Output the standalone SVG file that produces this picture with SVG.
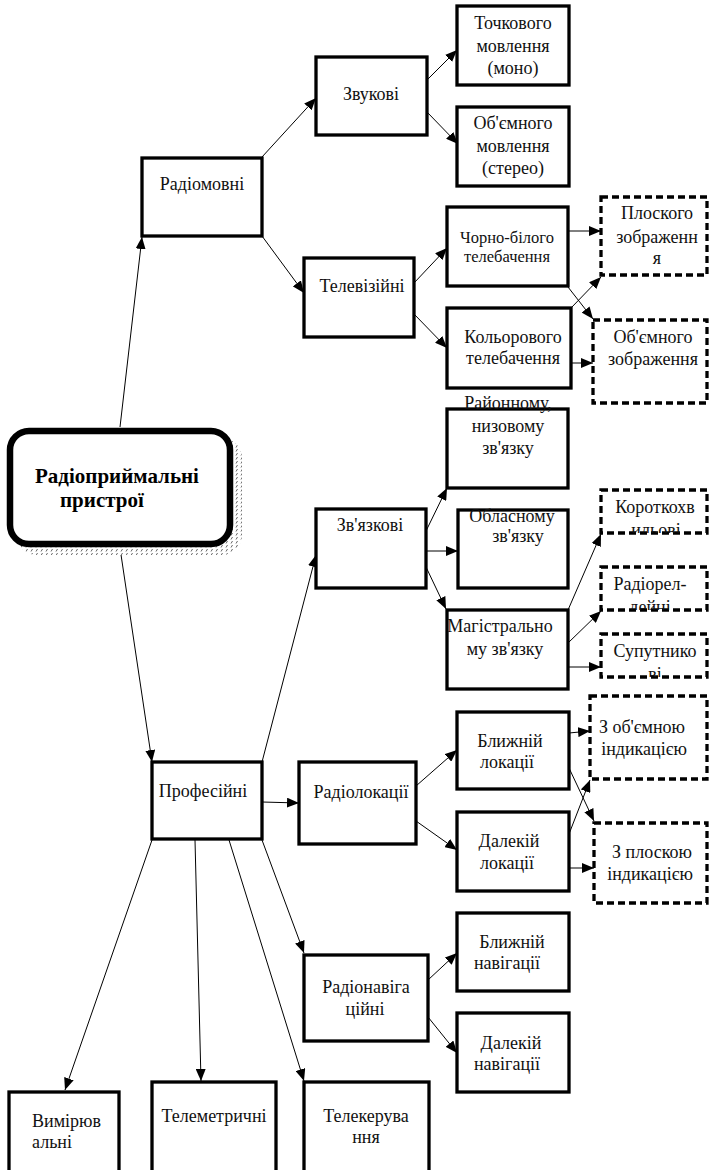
<svg xmlns="http://www.w3.org/2000/svg" width="709" height="1170" viewBox="0 0 709 1170">
  <style>
    .box { fill: #fff; stroke: #000; stroke-width: 3.3; }
    .dbox { fill: #fff; stroke: #000; stroke-width: 3.3; stroke-dasharray: 7 4; }
    .t { font-family: "Liberation Serif", "Times New Roman", serif; font-size: 18px; fill: #111; text-anchor: middle; }
    .ts { font-size: 16.5px; }
    .tl { text-anchor: start; }
    .tb { font-family: "Liberation Serif", "Times New Roman", serif; font-size: 21px; font-weight: bold; fill: #000; }
    .ln { stroke: #000; stroke-width: 1; fill: none; marker-end: url(#arr); }
  </style>
  <defs>
    <marker id="arr" markerWidth="12" markerHeight="10" refX="12" refY="5" orient="auto" markerUnits="userSpaceOnUse">
      <path d="M0,0 L12,5 L0,10 z" fill="#000"/>
    </marker>
    <pattern id="dots" width="5" height="4" patternUnits="userSpaceOnUse">
      <rect width="5" height="4" fill="#fff"/>
      <path d="M1,3.5 L2.5,1" stroke="#666" stroke-width="1"/>
    </pattern>
    <clipPath id="clipKor"><rect x="601" y="480" width="108" height="53"/></clipPath>
    <clipPath id="clipRel"><rect x="601" y="560" width="108" height="50"/></clipPath>
    <clipPath id="clipSup"><rect x="601" y="630" width="108" height="47"/></clipPath>
  </defs>

  <!-- connectors -->
  <g id="connectors">
    <line class="ln" x1="120" y1="427" x2="142" y2="237"/>
    <line class="ln" x1="262" y1="157" x2="316" y2="98"/>
    <line class="ln" x1="262" y1="236" x2="304" y2="293"/>
    <line class="ln" x1="427" y1="80" x2="457" y2="50"/>
    <line class="ln" x1="427" y1="112" x2="458" y2="144"/>
    <line class="ln" x1="414" y1="283" x2="447" y2="248"/>
    <line class="ln" x1="414" y1="314" x2="447" y2="348"/>
    <line class="ln" x1="568" y1="231" x2="601" y2="231"/>
    <line class="ln" x1="568" y1="287" x2="593" y2="319"/>
    <line class="ln" x1="571" y1="308" x2="601" y2="277"/>
    <line class="ln" x1="571" y1="363" x2="593" y2="363"/>
    <line class="ln" x1="120" y1="548" x2="152" y2="762"/>
    <line class="ln" x1="262" y1="762" x2="316" y2="555"/>
    <line class="ln" x1="426" y1="531" x2="447" y2="488"/>
    <line class="ln" x1="426" y1="551" x2="458" y2="551"/>
    <line class="ln" x1="426" y1="567" x2="446" y2="609"/>
    <line class="ln" x1="568" y1="610" x2="601" y2="534"/>
    <line class="ln" x1="568" y1="643" x2="601" y2="611"/>
    <line class="ln" x1="568" y1="667" x2="601" y2="667"/>
    <line class="ln" x1="262" y1="802" x2="299" y2="803"/>
    <line class="ln" x1="416" y1="786" x2="457" y2="750"/>
    <line class="ln" x1="416" y1="821" x2="457" y2="850"/>
    <line class="ln" x1="569" y1="733" x2="590" y2="731"/>
    <line class="ln" x1="569" y1="768" x2="594" y2="821"/>
    <line class="ln" x1="569" y1="834" x2="590" y2="780"/>
    <line class="ln" x1="569" y1="868" x2="594" y2="868"/>
    <line class="ln" x1="262" y1="840" x2="304" y2="953"/>
    <line class="ln" x1="428" y1="980" x2="457" y2="953"/>
    <line class="ln" x1="428" y1="1017" x2="457" y2="1053"/>
    <line class="ln" x1="152" y1="840" x2="65" y2="1090"/>
    <line class="ln" x1="195" y1="840" x2="201" y2="1081"/>
    <line class="ln" x1="229" y1="840" x2="304" y2="1081"/>
  </g>

  <!-- root node with hatched shadow -->
  <g id="root">
    <rect x="17" y="438" width="225" height="117" rx="20" fill="url(#dots)"/>
    <rect x="10" y="431" width="220" height="113" rx="19" fill="#fff" stroke="#000" stroke-width="6.5"/>
    <text class="tb" x="35" y="483">Радіоприймальні</text>
    <text class="tb" x="60" y="507">пристрої</text>
  </g>

  <g id="radiomovni">
    <rect class="box" x="142" y="158" width="120" height="78"/>
    <text class="t" x="202" y="190">Радіомовні</text>
  </g>
  <g id="zvukovi">
    <rect class="box" x="316" y="57" width="111" height="78"/>
    <text class="t" x="371" y="100">Звукові</text>
  </g>
  <g id="televiziini">
    <rect class="box" x="304" y="258" width="110" height="79"/>
    <text class="t" x="362" y="292">Телевізійні</text>
  </g>
  <g id="tochkovogo">
    <rect class="box" x="457" y="6" width="112" height="79"/>
    <text class="t" x="513" y="29">Точкового</text>
    <text class="t" x="513" y="52">мовлення</text>
    <text class="t" x="513" y="74">(моно)</text>
  </g>
  <g id="obiemnogo-movlennia">
    <rect class="box" x="457" y="107" width="112" height="79"/>
    <text class="t" x="513" y="129">Об'ємного</text>
    <text class="t" x="513" y="152">мовлення</text>
    <text class="t" x="513" y="174">(стерео)</text>
  </g>
  <g id="chorno-bilogo">
    <rect class="box" x="447" y="207" width="121" height="79"/>
    <text class="t ts" x="507" y="243">Чорно-білого</text>
    <text class="t ts" x="507" y="262">телебачення</text>
  </g>
  <g id="kolorovogo">
    <rect class="box" x="447" y="308" width="124" height="80"/>
    <text class="t" x="513" y="343">Кольорового</text>
    <text class="t" x="513" y="364">телебачення</text>
  </g>
  <g id="ploskogo-zobrazhennia">
    <rect class="dbox" x="601" y="197" width="106" height="78"/>
    <text class="t" x="657" y="219">Плоского</text>
    <text class="t" x="657" y="243">зображенн</text>
    <text class="t" x="657" y="264">я</text>
  </g>
  <g id="obiemnogo-zobrazhennia">
    <rect class="dbox" x="593" y="320" width="114" height="83"/>
    <text class="t" x="653" y="343">Об'ємного</text>
    <text class="t" x="653" y="365">зображення</text>
  </g>

  <g id="zviazkovi">
    <rect class="box" x="316" y="509" width="110" height="79"/>
    <text class="t" x="370" y="531">Зв'язкові</text>
  </g>
  <g id="raionnomu">
    <rect class="box" x="447" y="409" width="121" height="79"/>
    <text class="t" x="508" y="409">Районному,</text>
    <text class="t" x="508" y="432">низовому</text>
    <text class="t" x="508" y="454">зв'язку</text>
  </g>
  <g id="oblasnomu">
    <rect class="box" x="458" y="510" width="110" height="78"/>
    <text class="t" x="512" y="522">Обласному</text>
    <text class="t" x="518" y="542">зв'язку</text>
  </g>
  <g id="magistralnomu">
    <rect class="box" x="447" y="610" width="121" height="79"/>
    <text class="t" x="500" y="632">Магістрально</text>
    <text class="t" x="505" y="655">му зв'язку</text>
  </g>
  <g id="korotkokhvylovi">
    <rect class="dbox" x="601" y="490" width="106" height="43"/>
    <g clip-path="url(#clipKor)">
      <text class="t" x="655" y="513">Короткохв</text>
      <text class="t" x="656" y="536">ильові</text>
    </g>
  </g>
  <g id="radioreleini">
    <rect class="dbox" x="601" y="567" width="106" height="43"/>
    <g clip-path="url(#clipRel)">
      <text class="t" x="650" y="590">Радіорел-</text>
      <text class="t" x="650" y="613">дейні</text>
    </g>
  </g>
  <g id="suputnykovi">
    <rect class="dbox" x="601" y="634" width="106" height="43"/>
    <g clip-path="url(#clipSup)">
      <text class="t" x="655" y="657">Супутнико</text>
      <text class="t" x="655" y="680">ві</text>
    </g>
  </g>

  <g id="profesiini">
    <rect class="box" x="152" y="762" width="110" height="77"/>
    <text class="t" x="203" y="797">Професійні</text>
  </g>
  <g id="radiolokatsii">
    <rect class="box" x="299" y="762" width="117" height="82"/>
    <text class="t" x="361" y="798">Радіолокації</text>
  </g>
  <g id="blyzhnii-lokatsii">
    <rect class="box" x="457" y="712" width="112" height="77"/>
    <text class="t" x="510" y="747">Ближній</text>
    <text class="t" x="507" y="768">локації</text>
  </g>
  <g id="dalekii-lokatsii">
    <rect class="box" x="457" y="812" width="112" height="79"/>
    <text class="t" x="509" y="847">Далекій</text>
    <text class="t" x="507" y="869">локації</text>
  </g>
  <g id="obiemna-indykatsiia">
    <rect class="dbox" x="590" y="696" width="117" height="83"/>
    <text class="t" x="642" y="733">З об'ємною</text>
    <text class="t" x="644" y="755">індикацією</text>
  </g>
  <g id="ploska-indykatsiia">
    <rect class="dbox" x="594" y="823" width="113" height="80"/>
    <text class="t" x="652" y="858">З плоскою</text>
    <text class="t" x="650" y="880">індикацією</text>
  </g>

  <g id="radionavihatsiini">
    <rect class="box" x="304" y="955" width="124" height="86"/>
    <text class="t" x="366" y="993">Радіонавіга</text>
    <text class="t" x="365" y="1015">ційні</text>
  </g>
  <g id="blyzhnii-navihatsii">
    <rect class="box" x="457" y="913" width="112" height="78"/>
    <text class="t" x="512" y="948">Ближній</text>
    <text class="t" x="507" y="969">навігації</text>
  </g>
  <g id="dalekii-navihatsii">
    <rect class="box" x="457" y="1013" width="112" height="79"/>
    <text class="t" x="511" y="1049">Далекій</text>
    <text class="t" x="507" y="1070">навігації</text>
  </g>

  <g id="vymiriuvalni">
    <rect class="box" x="9" y="1092" width="110" height="90"/>
    <text class="t tl" x="32" y="1127">Вимірюв</text>
    <text class="t tl" x="32" y="1148">альні</text>
  </g>
  <g id="telemetrychni">
    <rect class="box" x="152" y="1082" width="124" height="100"/>
    <text class="t" x="214" y="1122">Телеметричні</text>
  </g>
  <g id="telekeruvannia">
    <rect class="box" x="304" y="1082" width="125" height="100"/>
    <text class="t" x="366" y="1122">Телекерува</text>
    <text class="t" x="366" y="1143">ння</text>
  </g>
</svg>
